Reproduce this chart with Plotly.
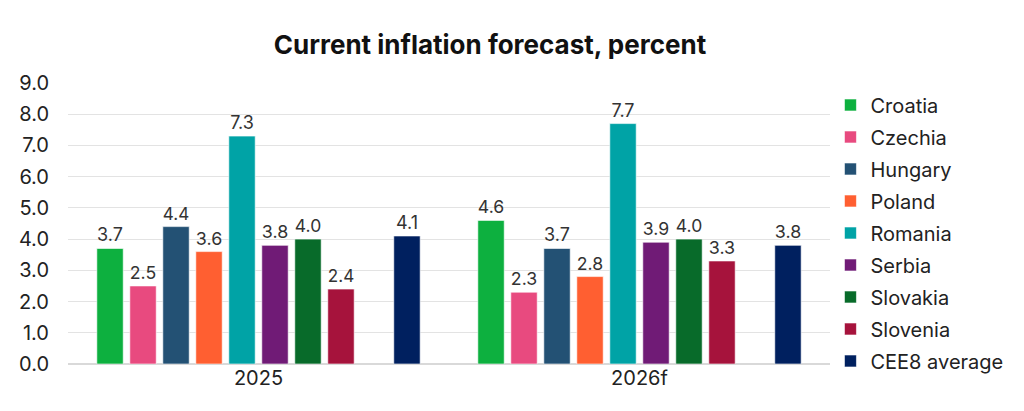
import plotly.graph_objects as go

categories = ["2025", "2026f"]
series_names = ["Croatia", "Czechia", "Hungary", "Poland", "Romania", "Serbia", "Slovakia", "Slovenia", "CEE8 average"]
croatia = [3.7, 4.6]
czechia = [2.5, 2.3]
hungary = [4.4, 3.7]
poland = [3.6, 2.8]
romania = [7.3, 7.7]
serbia = [3.8, 3.9]
slovakia = [4.0, 4.0]
slovenia = [2.4, 3.3]
cee8 = [4.1, 3.8]
colors = ["#0DB03F", "#E84A7F", "#235174", "#FF5F31", "#00A3A6", "#701B76", "#086B2A", "#A6133C", "#00205F"]

values = [croatia, czechia, hungary, poland, romania, serbia, slovakia, slovenia, cee8]

fig = go.Figure()
for i, (name, vals, col) in enumerate(zip(series_names, values, colors)):
    if name == "CEE8 average":
        # empty spacer slot before the average
        fig.add_trace(go.Bar(x=categories, y=[None, None], name="", showlegend=False,
                             legendgroup="spacer",
                             marker_color="rgba(0,0,0,0)", hoverinfo="skip"))
    fig.add_trace(go.Bar(
        x=categories, y=vals, name=name, legendgroup=name,
        marker=dict(color=col, line=dict(color="rgba(255,255,255,0.6)", width=1)),
        text=[f"{v:.1f}" for v in vals], textposition="outside",
        textfont=dict(size=18, color="#333333", family="Inter"),
        cliponaxis=False,
    ))

fig.update_layout(
    width=1024, height=411,
    paper_bgcolor="white", plot_bgcolor="white",
    font=dict(family="Inter", color="#222222"),
    title=dict(text="<b>Current inflation forecast, percent</b>", x=0.4785, xanchor="center",
               y=0.89, yanchor="middle", font=dict(size=26, color="#111111", family="Inter")),
    barmode="group", bargap=0.134, bargroupgap=0.2,
    margin=dict(l=68, r=194, t=83, b=47, autoexpand=False),
    showlegend=True,
    legend=dict(x=0.811, y=0.792, xref="container", yref="container",
                xanchor="left", yanchor="top",
                font=dict(size=20, color="#222222", family="Inter"),
                tracegroupgap=3, traceorder="grouped", itemwidth=30, maxheight=1.0),
    xaxis=dict(showgrid=False, showline=False, ticks="",
               tickfont=dict(size=20, color="#222222", family="Inter")),
    yaxis=dict(range=[0, 9], dtick=1, tickformat=".1f", showgrid=True, gridcolor="#E3E3E3",
               zeroline=True, zerolinecolor="#D9D9D9", showline=False,
               tickfont=dict(size=20, color="#222222", family="Inter"),
               ticklabelstandoff=18),
)

fig.write_html("out.html", config={"displayModeBar": False},
               post_script="document.body.style.margin='0';")
